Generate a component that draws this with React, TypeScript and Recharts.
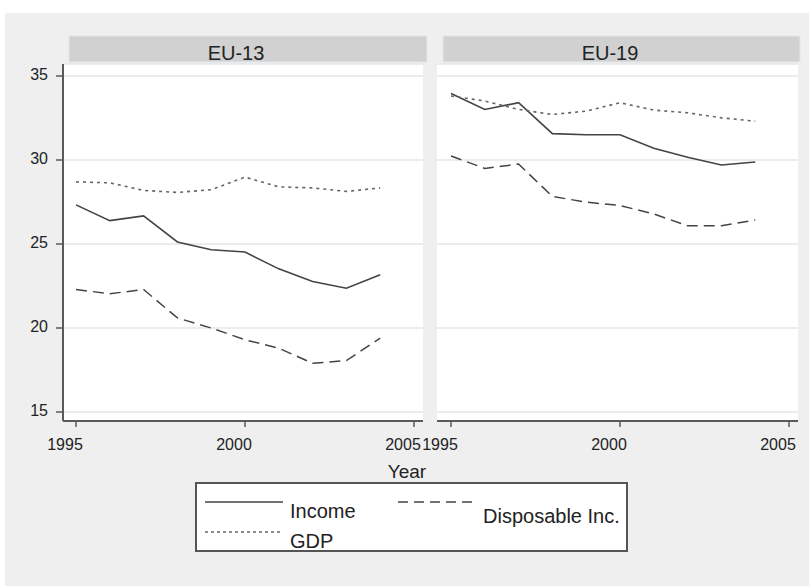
import React from "react";
import { LineChart, Line, XAxis, YAxis, CartesianGrid } from "recharts";

// ---------- data ----------
const years = [1995, 1996, 1997, 1998, 1999, 2000, 2001, 2002, 2003, 2004];

const eu13Income = [27.33, 26.39, 26.67, 25.12, 24.66, 24.52, 23.52, 22.77, 22.37, 23.17];
const eu13Disposable = [22.29, 22.04, 22.29, 20.6, 20.0, 19.3, 18.8, 17.9, 18.06, 19.4];
const eu13Gdp = [28.7, 28.64, 28.19, 28.07, 28.23, 28.98, 28.4, 28.34, 28.13, 28.34];

const eu19Income = [33.96, 33.01, 33.41, 31.57, 31.5, 31.5, 30.7, 30.16, 29.7, 29.88];
const eu19Disposable = [30.24, 29.5, 29.76, 27.83, 27.49, 27.29, 26.79, 26.08, 26.08, 26.43];
const eu19Gdp = [33.81, 33.51, 33.01, 32.71, 32.91, 33.41, 32.97, 32.81, 32.51, 32.31];

const panelTitles = ["EU-13", "EU-19"];
const seriesNames = ["Income", "Disposable Inc.", "GDP"];
const xTicks = [1995, 2000, 2005];
const yTicks = [15, 20, 25, 30, 35];
const xLabel = "Year";

// ---------- styles ----------
const FONT = "'Liberation Sans', Arial, sans-serif";
const INK = "#222";
const AXIS = "#5a5a5a";
const seriesStyle = [
  { key: "income", stroke: "#444", dash: undefined as string | undefined, width: 1.6 },
  { key: "disposable", stroke: "#444", dash: "11 6", width: 1.5 },
  { key: "gdp", stroke: "#666", dash: "3 4", width: 1.6 },
];

const build = (inc: number[], disp: number[], gdp: number[]) =>
  years.map((y, i) => ({ year: y, income: inc[i], disposable: disp[i], gdp: gdp[i] }));

const eu13Data = build(eu13Income, eu13Disposable, eu13Gdp);
const eu19Data = build(eu19Income, eu19Disposable, eu19Gdp);

const XTick = (props: any) => {
  const { x, y, payload } = props;
  return (
    <text x={x - 11} y={y + 23} textAnchor="middle" fontSize={16} fontFamily={FONT} fill={INK}>
      {payload.value}
    </text>
  );
};

const YTick = (props: any) => {
  const { x, y, payload } = props;
  return (
    <text x={x} y={y - 2} dy="0.355em" textAnchor="end" fontSize={16} fontFamily={FONT} fill={INK}>
      {payload.value}
    </text>
  );
};

const Panel = ({
  data,
  left,
  width,
  margin,
  showY,
  xPad,
}: {
  data: any[];
  left: number;
  width: number;
  margin: { top: number; right: number; bottom: number; left: number };
  showY: boolean;
  xPad: { left: number; right: number };
}) => (
  <div style={{ position: "absolute", left, top: 0 }}>
    <LineChart width={width} height={470} data={data} margin={margin}>
      <CartesianGrid
        vertical={false}
        stroke="#e6e6e6"
        strokeWidth={1.5}
        fill="#ffffff"
        fillOpacity={1}
      />
      <XAxis
        dataKey="year"
        type="number"
        domain={[1995, 2005]}
        ticks={xTicks}
        padding={xPad}
        height={30}
        tickSize={6}
        tickMargin={0}
        axisLine={{ stroke: AXIS, strokeWidth: 2 }}
        tickLine={{ stroke: AXIS, strokeWidth: 1.5 }}
        tick={<XTick />}
        interval={0}
      />
      <YAxis
        type="number"
        domain={[15, 35]}
        ticks={yTicks}
        padding={{ top: 12, bottom: 9 }}
        width={showY ? 63 : 0}
        hide={!showY}
        tickSize={7}
        tickMargin={8}
        axisLine={{ stroke: AXIS, strokeWidth: 2 }}
        tickLine={{ stroke: AXIS, strokeWidth: 1.5 }}
        tick={<YTick />}
        interval={0}
      />
      {seriesStyle.map((s) => (
        <Line
          key={s.key}
          type="linear"
          dataKey={s.key}
          stroke={s.stroke}
          strokeWidth={s.width}
          strokeDasharray={s.dash}
          dot={false}
          activeDot={false}
          isAnimationActive={false}
        />
      ))}
    </LineChart>
  </div>
);

export default function App() {
  return (
    <div
      style={{
        position: "fixed",
        left: 0,
        top: 0,
        width: 809,
        height: 586,
        background: "#ffffff",
        overflow: "hidden",
        fontFamily: FONT,
      }}
    >
      {/* background & panel headers */}
      <svg width={809} height={586} style={{ position: "absolute", left: 0, top: 0 }}>
        <rect x={5} y={13} width={804} height={573} fill="#efefef" />
        <rect x={69} y={36} width={358} height={26} fill="#d1d1d1" stroke="#dfe8ee" strokeWidth={1} />
        <rect x={443} y={36} width={357} height={26} fill="#d1d1d1" stroke="#dfe8ee" strokeWidth={1} />
        <text x={236} y={60} textAnchor="middle" fontSize={20} fontFamily={FONT} fill={INK}>
          {panelTitles[0]}
        </text>
        <text x={610} y={60} textAnchor="middle" fontSize={20} fontFamily={FONT} fill={INK}>
          {panelTitles[1]}
        </text>
      </svg>

      <Panel
        data={eu13Data}
        left={0}
        width={440}
        margin={{ top: 64, right: 17, bottom: 19, left: 0 }}
        showY={true}
        xPad={{ left: 13, right: 9 }}
      />
      <Panel
        data={eu19Data}
        left={420}
        width={389}
        margin={{ top: 64, right: 11, bottom: 19, left: 17 }}
        showY={false}
        xPad={{ left: 14, right: 9 }}
      />

      {/* axis title & legend */}
      <svg width={809} height={586} style={{ position: "absolute", left: 0, top: 0, pointerEvents: "none" }}>
        <text x={407} y={478} textAnchor="middle" fontSize={19} fontFamily={FONT} fill={INK}>
          {xLabel}
        </text>
        <rect x={196} y={483} width={431} height={68} fill="#ffffff" stroke="#555" strokeWidth={2} />
        <line x1={205} y1={502} x2={283} y2={502} stroke={seriesStyle[0].stroke} strokeWidth={1.6} />
        <text x={290} y={518} fontSize={20} fontFamily={FONT} fill={INK}>
          {seriesNames[0]}
        </text>
        <line
          x1={398}
          y1={502}
          x2={478}
          y2={502}
          stroke={seriesStyle[1].stroke}
          strokeWidth={1.5}
          strokeDasharray="10 6"
        />
        <text x={483} y={523} fontSize={20} fontFamily={FONT} fill={INK}>
          {seriesNames[1]}
        </text>
        <line
          x1={205}
          y1={532}
          x2={283}
          y2={532}
          stroke={seriesStyle[2].stroke}
          strokeWidth={1.4}
          strokeDasharray="3 3"
        />
        <text x={290} y={548} fontSize={20} fontFamily={FONT} fill={INK}>
          {seriesNames[2]}
        </text>
      </svg>
    </div>
  );
}
